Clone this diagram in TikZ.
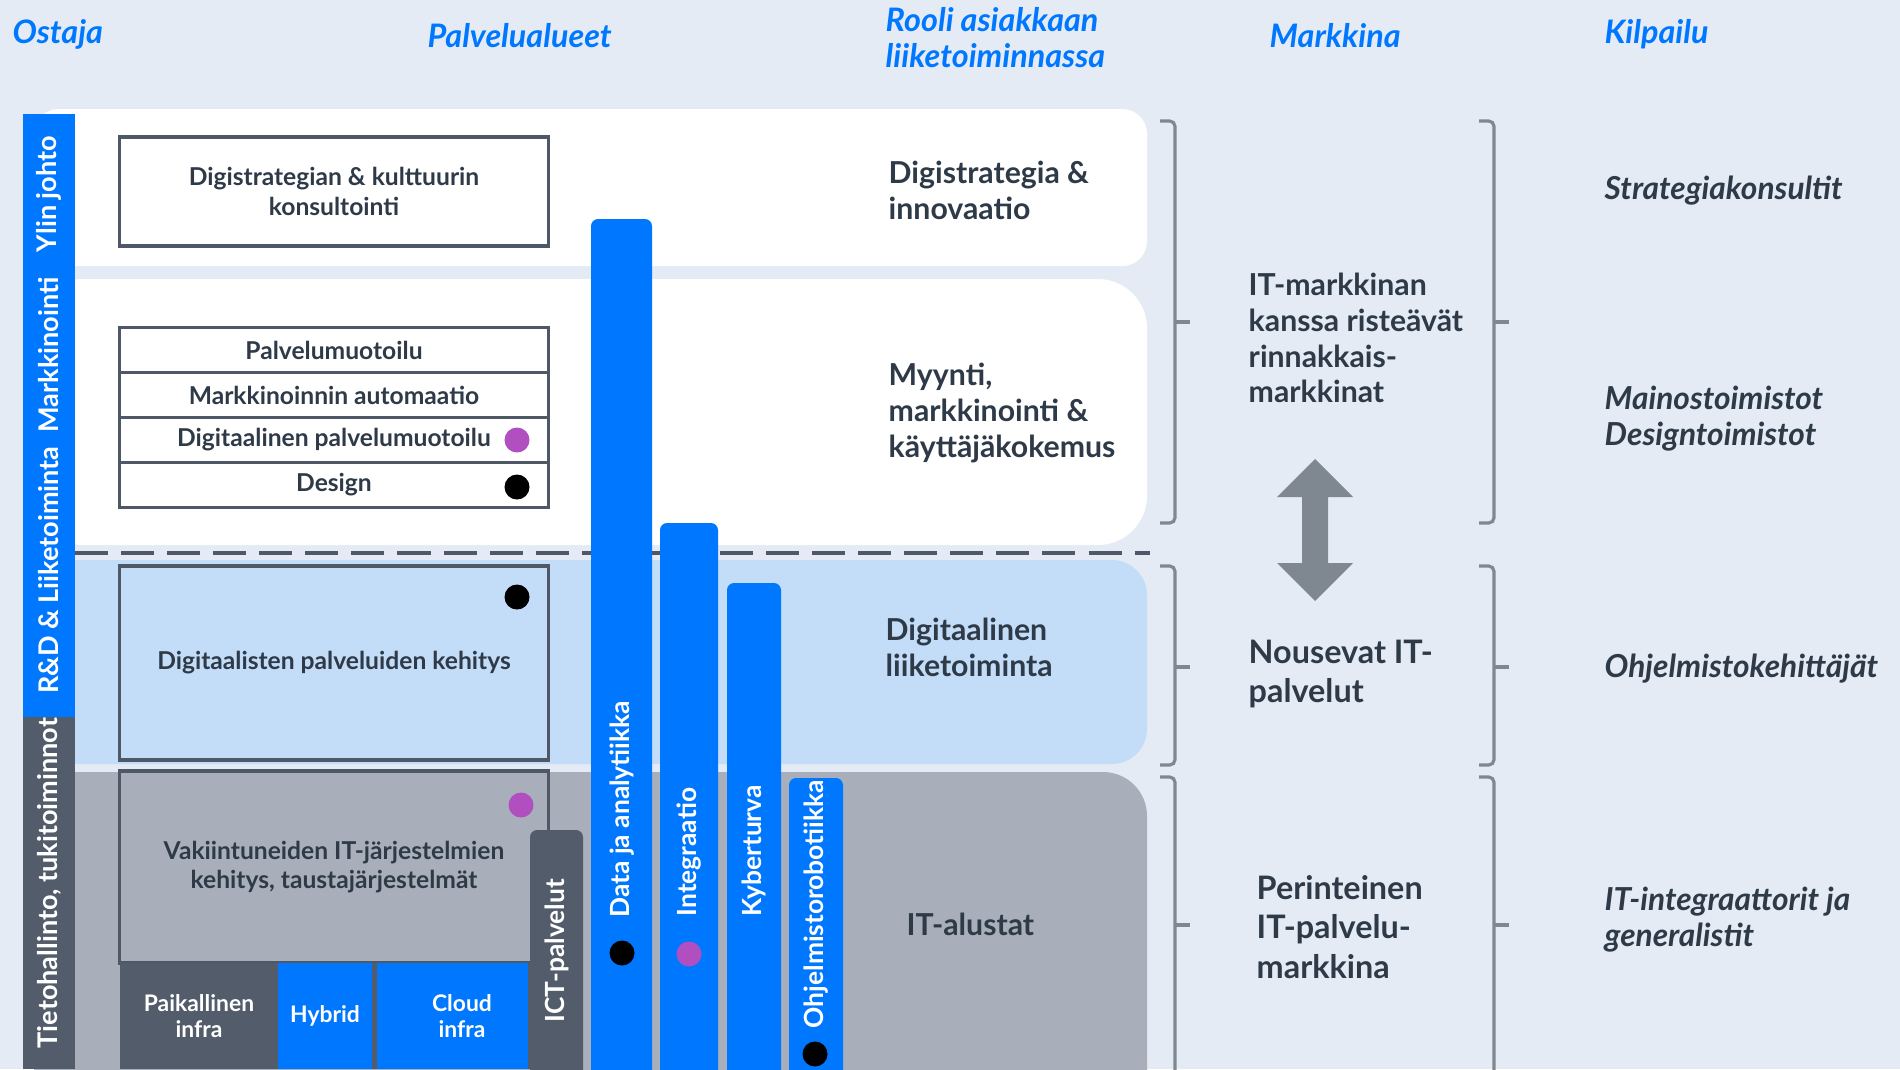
\documentclass[tikz,border=0pt]{standalone}
\usepackage{fontspec}
\setmainfont{Lato}
\definecolor{bgblue}{HTML}{E4EBF5}
\definecolor{panelblue}{HTML}{C3DCF7}
\definecolor{panelgray}{HTML}{A9AFBA}
\definecolor{itblue}{HTML}{0077FF}
\definecolor{darktext}{HTML}{2E3A47}
\definecolor{boxline}{HTML}{4F5867}
\definecolor{darkgray}{HTML}{535C6A}
\definecolor{brgray}{HTML}{7F8891}
\definecolor{dotpurple}{HTML}{B14FC1}
\begin{document}
\begin{tikzpicture}[x=0.01cm,y=-0.01cm,
	hdr/.style={font=\bfseries\itshape\fontsize{9.2}{10.2}\selectfont,text=itblue,anchor=west,align=left,inner sep=0pt},
	role/.style={font=\bfseries\fontsize{8.6}{10.2}\selectfont,text=darktext,anchor=west,align=left,inner sep=0pt},
	mkt/.style={font=\bfseries\fontsize{9.2}{11.2}\selectfont,text=darktext,anchor=west,align=left,inner sep=0pt},
	comp/.style={font=\bfseries\itshape\fontsize{9}{10.2}\selectfont,text=darktext,anchor=west,align=left,inner sep=0pt},
	srvbox/.style={draw=boxline,line width=0.9pt,font=\bfseries\fontsize{7}{8.3}\selectfont,text=darktext,align=center,minimum width=4.28cm,inner sep=0pt},
	side/.style={rotate=90,font=\bfseries\fontsize{7.7}{9}\selectfont,text=white},
	barlbl/.style={rotate=90,anchor=west,inner sep=0pt,font=\bfseries\fontsize{7.5}{9}\selectfont,text=white},
	infra/.style={font=\bfseries\fontsize{6.5}{7.6}\selectfont,text=white,align=center},
	bracket/.style={draw=brgray,line width=0.9pt,rounded corners=1.5pt}]
		\useasboundingbox (0,0) rectangle (1900,1069);
		\fill[bgblue] (0,0) rectangle (1900,1069);
		\clip (0,0) rectangle (1900,1069);
		% Column headers
		\node[hdr] (hostaja) at (12,34) {Ostaja};
		\node[hdr] (hpalvelu) at (427,36) {Palvelualueet};
		\node[hdr] (hrooli) at (885,38) {Rooli asiakkaan\\liiketoiminnassa};
		\node[hdr] (hmarkkina) at (1269,36) {Markkina};
		\node[hdr] (hkilpailu) at (1604,34) {Kilpailu};
		% Panels
		\fill[white,rounded corners=7pt] (34,109) rectangle (1147,266);
		\fill[white,rounded corners=14pt] (34,279) rectangle (1147,545);
		\fill[panelblue,rounded corners=10pt] (34,560) rectangle (1147,764);
		\fill[panelgray,rounded corners=12.5pt] (34,772) rectangle (1147,1130);
		\draw[boxline,line width=1.1pt,dash pattern=on 9.4pt off 3.7pt] (75,553) -- (1150,553);
		% Service boxes
		\node[srvbox,minimum height=1.09cm] (strat) at (334,191.5) {Digistrategian \& kulttuurin\\konsultointi};
		\node[srvbox,fill=white,minimum height=0.45cm] (pmuot) at (334,350) {Palvelumuotoilu};
		\node[srvbox,fill=white,minimum height=0.45cm] (mauto) at (334,395) {Markkinoinnin automaatio};
		\node[srvbox,fill=white,minimum height=0.45cm] (dpmuot) at (334,440) {Digitaalinen palvelumuotoilu};
		\node[srvbox,fill=white,minimum height=0.45cm] (design) at (334,485) {Design};
		\node[srvbox,fill=panelblue,minimum height=1.94cm] (dpkeh) at (334,663) {Digitaalisten palveluiden kehitys};
		\node[srvbox,fill=panelgray,minimum height=1.92cm] (vakiin) at (334,867) {Vakiintuneiden IT-järjestelmien\\kehitys, taustajärjestelmät};
		% Infra row
		\fill[darkgray] (120,963) rectangle (530,1069);
		\fill[itblue] (278,963) rectangle (372,1069);
		\fill[itblue] (377,963) rectangle (528,1069);
		\node[infra] (paik) at (199,1016) {Paikallinen\\infra};
		\node[infra] (hybrid) at (325,1016) {Hybrid};
		\node[infra] (cloud) at (462,1016) {Cloud\\infra};
		% Vertical bars
		\fill[darkgray,rounded corners=2pt] (530,1120) rectangle (583,830);
		\fill[itblue,rounded corners=2pt] (591,1120) rectangle (652,219);
		\fill[itblue,rounded corners=2pt] (660,1120) rectangle (718,523);
		\fill[itblue,rounded corners=2pt] (727,1120) rectangle (781,583);
		\fill[itblue,rounded corners=2pt] (789,1120) rectangle (843,778);
		\node[barlbl] (ict) at (557,1023) {ICT-palvelut};
		\node[barlbl] (data) at (622,918) {Data ja analytiikka};
		\node[barlbl] (integ) at (689,917) {Integraatio};
		\node[barlbl] (kyber) at (754,917) {Kyberturva};
		\node[barlbl] (robo) at (816,1029) {Ohjelmistorobotiikka};
		% Dots
		\fill[dotpurple] (517,440) circle[radius=1.25mm];
		\fill[black] (517,487) circle[radius=1.25mm];
		\fill[black] (517,597) circle[radius=1.25mm];
		\fill[dotpurple] (521,805) circle[radius=1.25mm];
		\fill[black] (622,953) circle[radius=1.25mm];
		\fill[dotpurple] (689,954) circle[radius=1.25mm];
		\fill[black] (815,1054) circle[radius=1.25mm];
		% Buyer sidebar
		\fill[itblue] (23,114) rectangle (75,717);
		\fill[darkgray] (23,717) rectangle (75,1069);
		\node[side] (ylin) at (49,194) {Ylin johto};
		\node[side] (markk) at (49,355) {Markkinointi};
		\node[side] (rnd) at (49,570) {R\&D \& Liiketoiminta};
		\node[side] (tieto) at (49,883) {Tietohallinto, tukitoiminnot};
		% Role in customer business
		\node[role] (rstrat) at (888,190) {Digistrategia \&\\innovaatio};
		\node[role] (rmyynti) at (888,413) {Myynti,\\markkinointi \&\\käyttäjäkokemus};
		\node[role] (rdigi) at (885,647) {Digitaalinen\\liiketoiminta};
		\node[role] (ralusta) at (906,924) {IT-alustat};
		% Markets
		\node[mkt,font=\bfseries\fontsize{8.6}{10.2}\selectfont] (mrinn) at (1248,338) {IT-markkinan\\kanssa risteävät\\rinnakkais-\\markkinat};
		\node[mkt] (mnous) at (1248,674) {Nousevat IT-\\palvelut};
		\node[mkt] (mperin) at (1256,927) {Perinteinen\\IT-palvelu-\\markkina};
		\fill[brgray] (1315,459) -- (1353,497) -- (1328,497) -- (1328,563) -- (1353,563) -- (1315,601)
			-- (1277,563) -- (1302,563) -- (1302,497) -- (1277,497) -- cycle;
		\foreach \x in {1175,1494}
			\foreach \t/\m/\b in {121/322/523, 566/667/765, 777/925/1140}{
				\draw[bracket] (\x-15,\t) -- (\x,\t) -- (\x,\b) -- (\x-15,\b);
				\draw[bracket] (\x,\m) -- (\x+15,\m);
			}
		% Competition
		\node[comp] (kstrat) at (1604,191) {Strategiakonsultit};
		\node[comp] (kmainos) at (1604,419) {Mainostoimistot\\Designtoimistot};
		\node[comp] (kohj) at (1604,669) {Ohjelmistokehittäjät};
		\node[comp] (kinteg) at (1604,920) {IT-integraattorit ja\\generalistit};
		\end{tikzpicture}
\end{document}
